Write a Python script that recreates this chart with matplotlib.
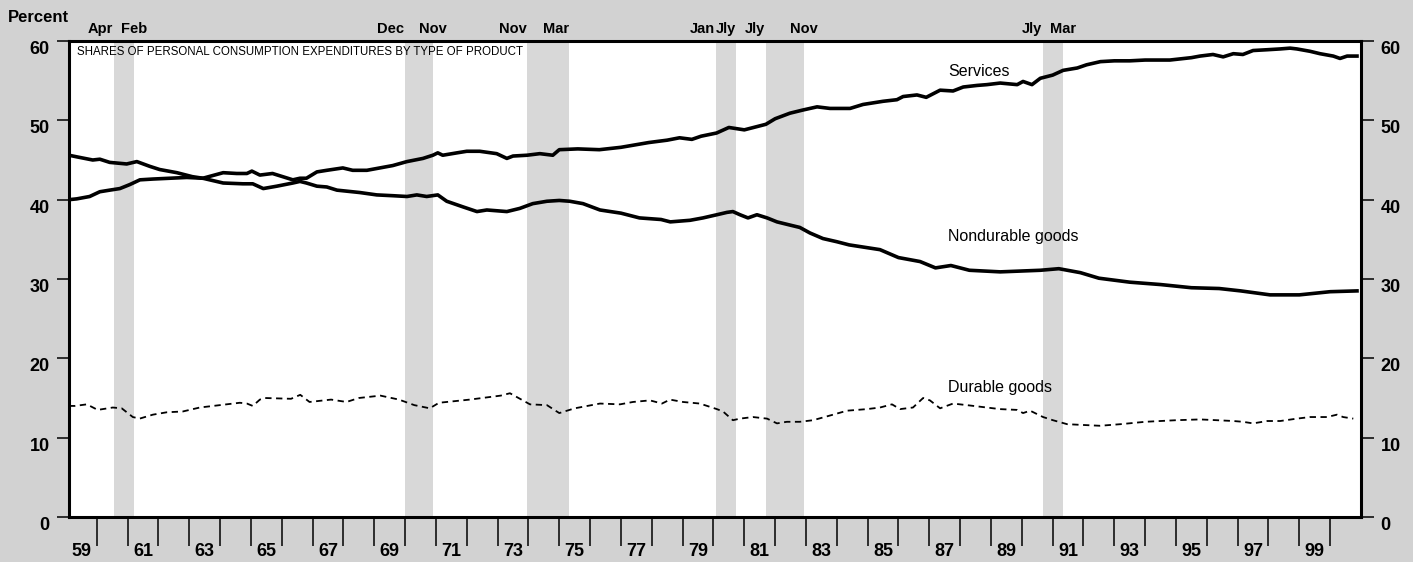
import numpy as np
import matplotlib
matplotlib.use("Agg")
import matplotlib.pyplot as plt
from matplotlib import font_manager
from matplotlib.transforms import blended_transform_factory

# shares of personal consumption expenditures, percent
services_years = [1959.1, 1959.35, 1959.77, 1960.1, 1960.42, 1960.75, 1961.07, 1961.4, 1961.82,
                  1962.37, 1962.92, 1963.44, 1964.1, 1964.54, 1964.87, 1965.03, 1965.29, 1965.7,
                  1966.03, 1966.36, 1966.59, 1966.8, 1967.14, 1967.46, 1967.98, 1968.3, 1968.76,
                  1969.18, 1969.6, 1970.06, 1970.58, 1970.9, 1971.06, 1971.22, 1971.68, 1972.0,
                  1972.42, 1972.97, 1973.3, 1973.5, 1973.95, 1974.37, 1974.79, 1975.0, 1975.6,
                  1976.3, 1977.0, 1977.9, 1978.5, 1978.9, 1979.3, 1979.6, 1980.1, 1980.5, 1981.0,
                  1981.3, 1981.7, 1982.0, 1982.48, 1982.9, 1983.36, 1983.78, 1984.43, 1984.85,
                  1985.5, 1985.95, 1986.15, 1986.6, 1986.9, 1987.35, 1987.77, 1988.1, 1988.55,
                  1988.87, 1989.3, 1989.85, 1990.04, 1990.33, 1990.6, 1991.0, 1991.34, 1991.8,
                  1992.1, 1992.55, 1993.0, 1993.5, 1994.0, 1994.8, 1995.5, 1995.78, 1996.2,
                  1996.53, 1996.86, 1997.17, 1997.5, 1997.96, 1998.38, 1998.7, 1998.92, 1999.35,
                  1999.67, 2000.1, 2000.32, 2000.55, 2000.87]
services_share = [40.0, 40.1, 40.4, 41.0, 41.2, 41.4, 41.9, 42.5, 42.6,
                  42.7, 42.8, 42.7, 43.4, 43.3, 43.3, 43.6, 43.1, 43.3,
                  42.9, 42.5, 42.7, 42.7, 43.5, 43.7, 44.0, 43.7, 43.7,
                  44.0, 44.3, 44.8, 45.2, 45.6, 45.9, 45.6, 45.9, 46.1,
                  46.1, 45.8, 45.2, 45.5, 45.6, 45.8, 45.6, 46.3, 46.4,
                  46.3, 46.6, 47.2, 47.5, 47.8, 47.6, 48.0, 48.4, 49.1, 48.8,
                  49.1, 49.5, 50.2, 50.9, 51.3, 51.7, 51.5, 51.5, 52.0,
                  52.4, 52.6, 53.0, 53.2, 52.9, 53.8, 53.7, 54.2, 54.4,
                  54.5, 54.7, 54.5, 54.9, 54.5, 55.3, 55.7, 56.3, 56.6,
                  57.0, 57.4, 57.5, 57.5, 57.6, 57.6, 57.9, 58.1, 58.3,
                  58.0, 58.4, 58.3, 58.8, 58.9, 59.0, 59.1, 59.0, 58.7,
                  58.4, 58.1, 57.8, 58.1, 58.1]

nondurable_years = [1959.1, 1959.35, 1959.87, 1960.1, 1960.42, 1960.97, 1961.3, 1961.72, 1962.04,
                    1962.6, 1963.1, 1963.44, 1964.1, 1964.74, 1965.06, 1965.4, 1965.84, 1966.36,
                    1966.59, 1966.8, 1967.14, 1967.46, 1967.79, 1968.53, 1969.08, 1969.6, 1970.06,
                    1970.38, 1970.7, 1971.06, 1971.35, 1971.87, 1972.33, 1972.65, 1973.3, 1973.72,
                    1974.14, 1974.6, 1975.0, 1975.34, 1975.77, 1976.32, 1977.0, 1977.6, 1978.3,
                    1978.6, 1979.24, 1979.66, 1980.11, 1980.44, 1980.63, 1980.86, 1981.12, 1981.41,
                    1981.74, 1982.06, 1982.48, 1982.8, 1983.13, 1983.55, 1984.0, 1984.4, 1985.4,
                    1986.0, 1986.7, 1987.2, 1987.7, 1988.3, 1989.3, 1990.6, 1991.2, 1991.9, 1992.5,
                    1993.5, 1994.5, 1995.5, 1996.4, 1997.1, 1998.05, 1999.0, 2000.0, 2000.87]
nondurable_share = [45.6, 45.4, 45.0, 45.1, 44.7, 44.5, 44.8, 44.2, 43.8,
                    43.4, 42.9, 42.7, 42.1, 42.0, 42.0, 41.4, 41.7, 42.1,
                    42.3, 42.1, 41.7, 41.6, 41.2, 40.9, 40.6, 40.5, 40.4,
                    40.6, 40.4, 40.6, 39.8, 39.1, 38.5, 38.7, 38.5, 38.9,
                    39.5, 39.8, 39.9, 39.8, 39.5, 38.7, 38.3, 37.7, 37.5,
                    37.2, 37.4, 37.7, 38.1, 38.4, 38.5, 38.1, 37.7, 38.1,
                    37.7, 37.2, 36.8, 36.5, 35.8, 35.1, 34.7, 34.3, 33.7,
                    32.7, 32.2, 31.4, 31.7, 31.1, 30.9, 31.1, 31.3, 30.8, 30.1,
                    29.6, 29.3, 28.9, 28.8, 28.5, 28.0, 28.0, 28.4, 28.5]

durable_years = [1959.1, 1959.29, 1959.68, 1960.03, 1960.52, 1960.81, 1961.17, 1961.39, 1961.82,
                 1962.27, 1962.79, 1963.34, 1963.99, 1964.64, 1964.87, 1965.06, 1965.29, 1965.45,
                 1966.3, 1966.6, 1966.9, 1967.6, 1968.1, 1968.5, 1969.2, 1969.8, 1970.3, 1970.8,
                 1971.1, 1972.1, 1973.1, 1973.4, 1974.05, 1974.6, 1975.0, 1975.5, 1976.32,
                 1976.97, 1977.39, 1977.94, 1978.33, 1978.59, 1979.01, 1979.56, 1980.11, 1980.31,
                 1980.63, 1980.86, 1981.28, 1981.74, 1982.06, 1982.38, 1982.8, 1983.23, 1983.88,
                 1984.33, 1984.98, 1985.4, 1985.79, 1986.05, 1986.47, 1986.8, 1987.02, 1987.35,
                 1987.77, 1988.22, 1988.65, 1989.29, 1989.85, 1990.04, 1990.27, 1990.69, 1991.01,
                 1991.47, 1991.99, 1992.54, 1993.2, 1994.0, 1995.0, 1995.78, 1996.33, 1996.86,
                 1997.17, 1997.5, 1997.96, 1998.38, 1998.92, 1999.35, 1999.9, 2000.22, 2000.42,
                 2000.75]
durable_share = [14.0, 14.0, 14.2, 13.5, 13.8, 13.7, 12.6, 12.4, 12.9,
                 13.2, 13.3, 13.8, 14.1, 14.4, 14.3, 14.0, 14.8, 15.0,
                 14.9, 15.4, 14.5, 14.8, 14.5, 15.0, 15.3, 14.8, 14.1, 13.7,
                 14.4, 14.8, 15.3, 15.6, 14.2, 14.1, 13.1, 13.7, 14.3,
                 14.2, 14.5, 14.7, 14.3, 14.8, 14.5, 14.3, 13.6, 13.3,
                 12.2, 12.4, 12.6, 12.4, 11.8, 12.0, 12.0, 12.2, 12.9,
                 13.4, 13.6, 13.8, 14.2, 13.6, 13.8, 15.0, 14.7, 13.7,
                 14.3, 14.1, 13.9, 13.6, 13.5, 13.1, 13.4, 12.6, 12.2,
                 11.7, 11.6, 11.5, 11.7, 12.0, 12.2, 12.3, 12.2, 12.1,
                 12.0, 11.8, 12.1, 12.1, 12.4, 12.6, 12.6, 12.9, 12.6,
                 12.4]

# recessions: shaded spans with peak / trough month labels
recession_start = [1960.55, 1969.99, 1973.95, 1980.08, 1981.70, 1990.69]
recession_end = [1961.22, 1970.90, 1975.31, 1980.73, 1982.94, 1991.34]
peak_labels = ["Apr", "Dec", "Nov", "Jan", "Jly", "Jly"]
trough_labels = ["Feb", "Nov", "Mar", "Jly", "Nov", "Mar"]
trough_align = ["center", "center", "right", "right", "center", "center"]

year_ticks = list(range(1960, 2001))
year_label_pos = [y + 0.5 for y in range(1959, 2000, 2)]
year_labels = ["%02d" % (y % 100) for y in range(1959, 2000, 2)]
pct_ticks = [0, 10, 20, 30, 40, 50, 60]

names = {f.name for f in font_manager.fontManager.ttflist}
narrow = "Liberation Sans Narrow" in names
base = ["Liberation Sans", "DejaVu Sans"]
cond = (["Liberation Sans Narrow"] if narrow else []) + base
plt.rcParams["font.family"] = base

fig = plt.figure(figsize=(14.13, 5.62), dpi=100, facecolor="#d2d2d2")
ax = fig.add_axes([69 / 1413, 1 - 517 / 562, (1361 - 69) / 1413, (517 - 41) / 562])
ax.set_facecolor("white")
ax.set_xlim(1959.1, 2001.0)
ax.set_ylim(0, 60)

for s, e in zip(recession_start, recession_end):
    ax.axvspan(s, e, color="#d8d8d8", lw=0, zorder=1)

ax.plot(services_years, services_share, color="black", lw=2.6, zorder=3)
ax.plot(nondurable_years, nondurable_share, color="black", lw=2.6, zorder=3)
ax.plot(durable_years, durable_share, color="black", lw=1.3, dashes=(3.5, 2.5), zorder=3)

for sp in ax.spines.values():
    sp.set_linewidth(2.2)

ax.set_xticks(year_ticks)
ax.set_xticklabels([])
ax.set_xticks(year_label_pos, minor=True)
ax.set_xticklabels(year_labels, minor=True, fontsize=13, fontweight="bold")
ax.tick_params(axis="x", which="major", direction="out", length=21, width=1.1)
ax.tick_params(axis="x", which="minor", length=0, pad=19)

ax.set_yticks(pct_ticks)
ax.set_yticklabels([str(v) for v in pct_ticks], fontsize=13, fontweight="bold")
ax.tick_params(axis="y", left=True, right=True, labelleft=True, labelright=True,
               direction="out", length=9, width=1.1, pad=5)
for t in ax.yaxis.get_major_ticks():
    t.label1.set_va("top")
    t.label2.set_va("top")
    t.label2.set_fontsize(13)
    t.label2.set_fontweight("bold")

trans = blended_transform_factory(ax.transData, ax.transAxes)
band_fs = 11 if narrow else 10.5
for s, e, pl, tl, ha in zip(recession_start, recession_end, peak_labels, trough_labels, trough_align):
    ax.text(s - 0.02, 1.025, pl, transform=trans, ha="right", va="center",
            fontsize=band_fs, fontweight="bold", family=cond)
    ax.text(e, 1.025, tl, transform=trans, ha=ha, va="center",
            fontsize=band_fs, fontweight="bold", family=cond)

ax.text(0.006, 0.977, "SHARES OF PERSONAL CONSUMPTION EXPENDITURES BY TYPE OF PRODUCT",
        transform=ax.transAxes, ha="left", va="center",
        fontsize=10 if narrow else 8.3, family=cond)

ax.text(1987.6, 56.1, "Services", ha="left", va="center", fontsize=11.5, zorder=4)
ax.text(1987.6, 35.4, "Nondurable goods", ha="left", va="center", fontsize=11.5, zorder=4)
ax.text(1987.6, 16.3, "Durable goods", ha="left", va="center", fontsize=11.5, zorder=4)

fig.text(38 / 1413, 1 - 18 / 562, "Percent", ha="center", va="center",
         fontsize=12, fontweight="bold")

fig.savefig("out.png", dpi=100, facecolor=fig.get_facecolor())
